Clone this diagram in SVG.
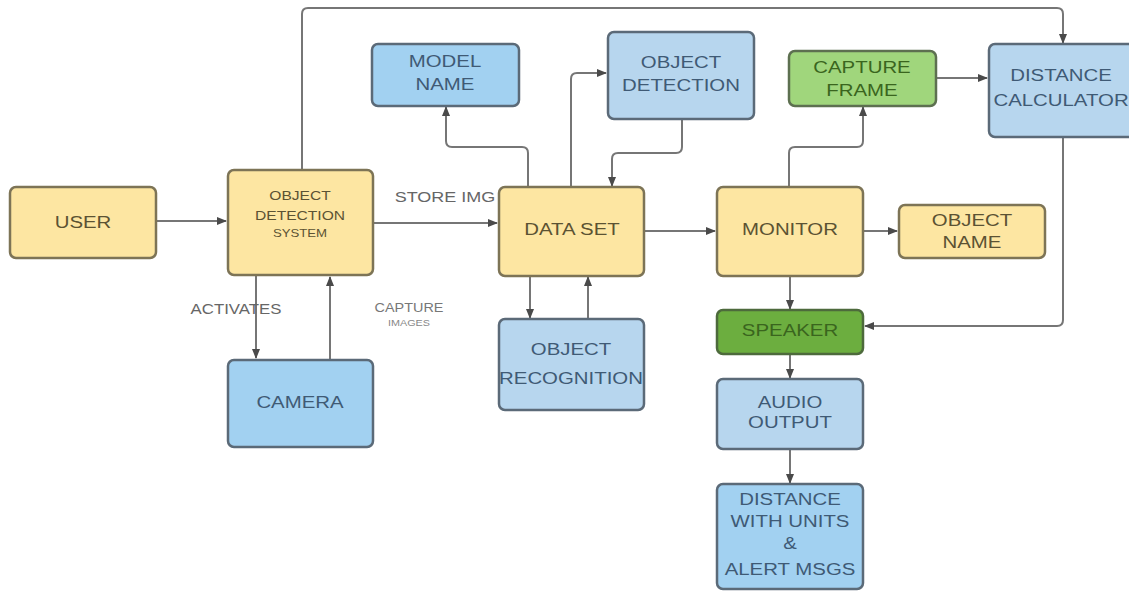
<svg xmlns="http://www.w3.org/2000/svg" width="1129" height="591" viewBox="0 0 1129 591">
<defs>
<marker id="ah" viewBox="0 0 10 10" refX="9" refY="5" markerWidth="10" markerHeight="10" markerUnits="userSpaceOnUse" orient="auto">
<path d="M0,1 L10,5 L0,9 z" fill="#4a4a4a"/>
</marker>
<style>
.n rect{stroke-width:2.5;}
.y rect{fill:#fde6a2;stroke:#7d7456;}
.b rect{fill:#a2d1f1;stroke:#5b6a78;}
.lb rect{fill:#b7d6ee;stroke:#5b6a78;}
.g rect{fill:#a0d67c;stroke:#5d7050;}
.dg rect{fill:#6cae3f;stroke:#4d6a3c;}
text{font-family:"Liberation Sans",Arial,sans-serif;text-anchor:middle;}
.y text{fill:#5b5233;font-size:17px;}
.b text,.lb text{fill:#3f5a75;font-size:17px;}
.g text,.dg text{fill:#3a651e;font-size:17px;}
.lbl{fill:#666;font-size:14px;}
#conn path{fill:none;stroke:#767676;stroke-width:2;marker-end:url(#ah);}
</style>
</defs>
<rect width="1129" height="591" fill="#fff"/>
<g id="conn">
<path d="M156,221 H226"/>
<path d="M256,275 V358"/>
<path d="M330,360 V277"/>
<path d="M373,223 H497"/>
<path d="M302,170 V14 Q302,8 308,8 H1057 Q1063,8 1063,14 V43"/>
<path d="M528,187 V153 Q528,147 522,147 H452 Q446,147 446,141 V107"/>
<path d="M571,187 V79 Q571,73 577,73 H606"/>
<path d="M682,119 V147 Q682,153 676,153 H618 Q612,153 612,159 V186"/>
<path d="M530,276 V318"/>
<path d="M588,319 V277"/>
<path d="M644,231 H715"/>
<path d="M789,187 V153 Q789,147 795,147 H857 Q863,147 863,141 V107"/>
<path d="M936,78 H987"/>
<path d="M863,231 H897"/>
<path d="M790,276 V309"/>
<path d="M1063,137 V320 Q1063,326 1057,326 H865"/>
<path d="M790,354 V378"/>
<path d="M790,449 V483"/>
</g>
<text class="lbl" transform="matrix(1.2,0,0,1,236,314)">ACTIVATES</text>
<text class="lbl" transform="matrix(1.2,0,0,1,409,312)" style="font-size:12px;fill:#777">CAPTURE</text>
<text class="lbl" transform="matrix(1.2,0,0,1,409,326)" style="font-size:9px;fill:#888">IMAGES</text>
<text class="lbl" transform="matrix(1.2,0,0,1,445,202)" style="font-size:15px">STORE IMG</text>
<g id="user" class="n y"><rect x="10" y="187" width="146" height="71" rx="6"/><text transform="matrix(1.2,0,0,1,83,228)">USER</text></g>
<g id="ods" class="n y"><rect x="228" y="170" width="145" height="105" rx="6"/><text transform="matrix(1.2,0,0,1,300,200)" style="font-size:13px">OBJECT</text><text transform="matrix(1.2,0,0,1,300,220)" style="font-size:13px">DETECTION</text><text transform="matrix(1.2,0,0,1,300,237)" style="font-size:11px">SYSTEM</text></g>
<g id="camera" class="n b"><rect x="228" y="360" width="145" height="87" rx="6"/><text transform="matrix(1.2,0,0,1,300,408)">CAMERA</text></g>
<g id="model" class="n b"><rect x="372" y="44" width="147" height="62" rx="6"/><text transform="matrix(1.2,0,0,1,445,67)">MODEL</text><text transform="matrix(1.2,0,0,1,445,90)">NAME</text></g>
<g id="objdet" class="n lb"><rect x="608" y="32" width="146" height="87" rx="6"/><text transform="matrix(1.2,0,0,1,681,68)">OBJECT</text><text transform="matrix(1.2,0,0,1,681,91)">DETECTION</text></g>
<g id="dataset" class="n y"><rect x="499" y="187" width="145" height="89" rx="6"/><text transform="matrix(1.2,0,0,1,572,235)">DATA SET</text></g>
<g id="objrec" class="n lb"><rect x="499" y="319" width="145" height="91" rx="6"/><text transform="matrix(1.2,0,0,1,571,355)">OBJECT</text><text transform="matrix(1.2,0,0,1,571,384)">RECOGNITION</text></g>
<g id="monitor" class="n y"><rect x="717" y="187" width="146" height="89" rx="6"/><text transform="matrix(1.2,0,0,1,790,235)">MONITOR</text></g>
<g id="capframe" class="n g"><rect x="789" y="51" width="147" height="55" rx="6"/><text transform="matrix(1.2,0,0,1,862,73)">CAPTURE</text><text transform="matrix(1.2,0,0,1,862,96)">FRAME</text></g>
<g id="distcalc" class="n lb"><rect x="989" y="44" width="145" height="93" rx="6"/><text transform="matrix(1.2,0,0,1,1061,81)">DISTANCE</text><text transform="matrix(1.2,0,0,1,1061,106)">CALCULATOR</text></g>
<g id="objname" class="n y"><rect x="899" y="205" width="146" height="53" rx="6"/><text transform="matrix(1.2,0,0,1,972,226)">OBJECT</text><text transform="matrix(1.2,0,0,1,972,248)">NAME</text></g>
<g id="speaker" class="n dg"><rect x="717" y="310" width="146" height="44" rx="6"/><text transform="matrix(1.2,0,0,1,790,336)">SPEAKER</text></g>
<g id="audio" class="n lb"><rect x="717" y="379" width="146" height="70" rx="6"/><text transform="matrix(1.2,0,0,1,790,408)">AUDIO</text><text transform="matrix(1.2,0,0,1,790,428)">OUTPUT</text></g>
<g id="distunits" class="n b"><rect x="717" y="484" width="146" height="105" rx="6"/><text transform="matrix(1.2,0,0,1,790,505)">DISTANCE</text><text transform="matrix(1.2,0,0,1,790,527)">WITH UNITS</text><text transform="matrix(1.2,0,0,1,790,549)">&amp;</text><text transform="matrix(1.2,0,0,1,790,575)">ALERT MSGS</text></g>
</svg>
